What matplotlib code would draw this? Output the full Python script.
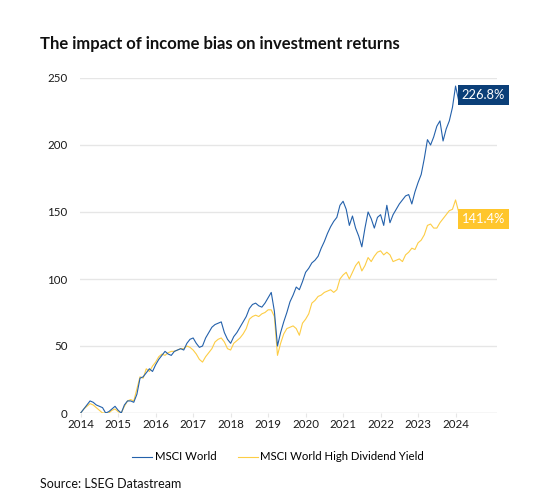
#!/usr/bin/env python3
import matplotlib
matplotlib.use("Agg")
import matplotlib.pyplot as plt
import numpy as np

plt.rcParams['font.family'] = ['Lato', 'DejaVu Sans']

# monthly observations, Jan 2014 .. Feb 2024 (index rebased to 0)
msci_world = [
    0, 3, 6, 9, 8, 6, 5, 4, 0, 1, 3, 5,
    2, 0, 6, 9, 9, 8, 14, 26, 27, 30, 33, 31,
    36, 40, 43, 46, 44, 43, 46, 47, 48, 47, 52, 55,
    56, 52, 49, 50, 56, 60, 64, 66, 67, 68, 60, 55,
    52, 57, 60, 64, 68, 72, 78, 81, 82, 80, 79, 82,
    86, 90, 76, 50, 60, 68, 75, 83, 88, 94, 92, 98,
    105, 108, 112, 114, 117, 123, 128, 134, 139, 143, 146, 155,
    158, 152, 140, 147, 138, 132, 124, 138, 150, 145, 138, 146,
    148, 140, 155, 142, 148, 152, 156, 159, 162, 163, 156, 165,
    172, 178, 190, 204, 200, 206, 214, 218, 203, 212, 218, 228,
    244, 233,
]
msci_high_div = [
    0, 3, 5, 7, 6, 4, 2, 0, 0, 0, 2, 3,
    1, 0, 5, 9, 10, 9, 18, 27, 26, 33, 31, 35,
    38, 42, 44, 43, 45, 46, 46, 47, 48, 48, 50, 49,
    47, 44, 40, 38, 42, 45, 48, 53, 55, 56, 53, 48,
    47, 52, 54, 56, 59, 63, 70, 72, 73, 72, 74, 75,
    77, 77, 72, 43, 52, 59, 63, 64, 65, 63, 58, 67,
    70, 74, 82, 84, 87, 88, 90, 91, 92, 90, 92, 100,
    103, 105, 100, 105, 110, 113, 106, 110, 116, 113, 117, 120,
    121, 118, 120, 118, 113, 114, 115, 113, 118, 120, 123, 122,
    127, 129, 133, 140, 141, 138, 138, 142, 145, 148, 151, 152,
    159, 150,
]
end_labels = ['226.8%', '141.4%']
series_names = ['MSCI World', 'MSCI World High Dividend Yield']
years = list(range(2014, 2025))
y_ticks = [0, 50, 100, 150, 200, 250]

BLUE = '#2461ab'
YELLOW = '#fdcd45'
BLUE_BOX = '#0b3f78'
YELLOW_BOX = '#ffc62c'
GRID = '#e6e6e6'

t = 2014 + np.arange(len(msci_world)) / 12.0

fig = plt.figure(figsize=(5.4, 5.0), dpi=100)
ax = fig.add_axes([0.148, 0.174, 0.772, 0.67])

ax.plot(t, msci_world, color=BLUE, linewidth=0.8, label=series_names[0], zorder=3)
ax.plot(t, msci_high_div, color=YELLOW, linewidth=0.8, label=series_names[1], zorder=2)

ax.set_xlim(2013.98, 2025.1)
ax.set_ylim(0, 250)
ax.set_xticks(years)
ax.set_xticklabels([str(y) for y in years])
ax.set_yticks(y_ticks)
ax.grid(axis='y', color=GRID, linewidth=1.0)
ax.set_axisbelow(True)
for s in ax.spines.values():
    s.set_visible(False)
ax.tick_params(axis='y', length=0, pad=9, labelsize=8.3, colors='#1a1a1a')
ax.tick_params(axis='x', length=3, color=GRID, pad=1.5, labelsize=8.3, colors='#1a1a1a')
ax.axhline(0, color=GRID, linewidth=1.0, zorder=1)

# end-of-series value boxes
ax.annotate(end_labels[0], xy=(t[-1], msci_world[-1]), xytext=(2, 4),
            textcoords='offset points', ha='left', va='center', color='white',
            fontsize=9.3,
            bbox=dict(boxstyle='square,pad=0.3', fc=BLUE_BOX, ec='none'))
ax.annotate(end_labels[1], xy=(t[-1], msci_high_div[-1]), xytext=(2, -5),
            textcoords='offset points', ha='left', va='center', color='white',
            fontsize=9.3,
            bbox=dict(boxstyle='square,pad=0.3', fc=YELLOW_BOX, ec='none'))

fig.text(0.074, 0.912, 'The impact of income bias on investment returns',
         fontsize=12, fontweight='bold', color='#111111', va='center')

fig.legend(loc='center', bbox_to_anchor=(0.515, 0.086), ncol=2, frameon=False,
           fontsize=8.2, handlelength=1.75, handletextpad=0.2, columnspacing=1.9)

fig.text(0.074, 0.032, 'Source: LSEG Datastream', fontsize=9, color='#111111',
         va='center')

fig.savefig('out.png', dpi=100)
